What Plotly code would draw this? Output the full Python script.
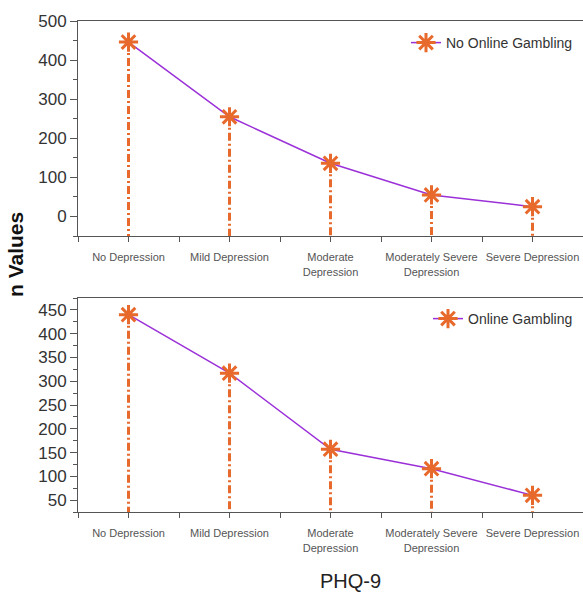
import plotly.graph_objects as go

categories = ["No Depression", "Mild Depression", "Moderate<br>Depression",
              "Moderately Severe<br>Depression", "Severe Depression"]
no_gambling = [446, 255, 136, 55, 25]
online_gambling = [440, 317, 157, 116, 60]

top_range = [-50, 500]
bot_range = [25, 475]

W, H = 583, 594
ORANGE = "#E8692C"
PURPLE = "#9B30D8"
AXC = "#555555"

xs = list(range(len(categories)))

fig = go.Figure()

def add_panel(vals, name, xa, ya, yr, legend):
    for x, v in zip(xs, vals):
        fig.add_trace(go.Scatter(x=[x, x], y=[v, yr[0]], mode="lines",
                                 line=dict(color=ORANGE, width=3, dash="8px,3px,2px,3px"),
                                 showlegend=False, hoverinfo="skip",
                                 xaxis=xa, yaxis=ya))
    fig.add_trace(go.Scatter(x=xs, y=vals, mode="lines+markers", name=name,
                             line=dict(color=PURPLE, width=1.5),
                             marker=dict(symbol="asterisk-open", size=16, color=ORANGE,
                                         line=dict(color=ORANGE, width=3)),
                             xaxis=xa, yaxis=ya, legend=legend))

add_panel(no_gambling, "No Online Gambling", "x", "y", top_range, "legend")
add_panel(online_gambling, "Online Gambling", "x2", "y2", bot_range, "legend2")

def px_y(p):
    return 1 - p / H

xdom = [78 / W, 1.0]
xaxis_common = dict(
    range=[-0.5, 4.5], tickmode="array", tickvals=xs, ticktext=categories,
    tickangle=0, automargin=False, ticklabelstandoff=6,
    showgrid=False, zeroline=False, showline=True, linecolor=AXC, linewidth=1,
    mirror=True, ticks="outside", ticklen=5, tickcolor=AXC,
    tickfont=dict(family="Liberation Sans, Arial", size=11, color="#555555"),
    minor=dict(tickmode="linear", tick0=-0.5, dtick=1, ticks="outside", ticklen=5, tickcolor=AXC),
    domain=xdom, fixedrange=True,
)
yaxis_common = dict(
    showgrid=False, zeroline=False, showline=True, linecolor=AXC, linewidth=1,
    ticks="outside", ticklen=7, tickcolor=AXC, automargin=False,
    tickfont=dict(family="Liberation Sans, Arial", size=17, color="#333333"),
)

fig.update_layout(
    width=W, height=H, margin=dict(l=0, r=0, t=0, b=0),
    paper_bgcolor="white", plot_bgcolor="white",
    xaxis=dict(**xaxis_common, anchor="y"),
    xaxis2=dict(**xaxis_common, anchor="y2"),
    yaxis=dict(**yaxis_common, range=top_range, dtick=100, tick0=0,
               minor=dict(dtick=50, ticks="outside", ticklen=4, tickcolor=AXC),
               domain=[px_y(236), px_y(21)], anchor="x"),
    yaxis2=dict(**yaxis_common, range=bot_range, dtick=50, tick0=0,
                minor=dict(dtick=25, ticks="outside", ticklen=4, tickcolor=AXC),
                domain=[px_y(512), px_y(298)], anchor="x2"),
    legend=dict(x=578 / W, y=px_y(43), xanchor="right", yanchor="middle",
                bgcolor="rgba(0,0,0,0)", borderwidth=0,
                font=dict(family="Liberation Sans, Arial", size=14, color="#333333")),
    legend2=dict(x=578 / W, y=px_y(319), xanchor="right", yanchor="middle",
                 bgcolor="rgba(0,0,0,0)", borderwidth=0,
                 font=dict(family="Liberation Sans, Arial", size=14, color="#333333")),
    annotations=[
        dict(text="<b>n Values</b>", x=15 / W, y=px_y(255), xref="paper", yref="paper",
             textangle=-90, showarrow=False, xanchor="center", yanchor="middle",
             font=dict(family="Liberation Sans, Arial", size=21, color="#111111")),
        dict(text="PHQ-9", x=350 / W, y=px_y(581), xref="paper", yref="paper",
             showarrow=False, xanchor="center", yanchor="middle",
             font=dict(family="Liberation Sans, Arial", size=20, color="#222222")),
    ],
    showlegend=True,
)

fig.write_html("out.html")
